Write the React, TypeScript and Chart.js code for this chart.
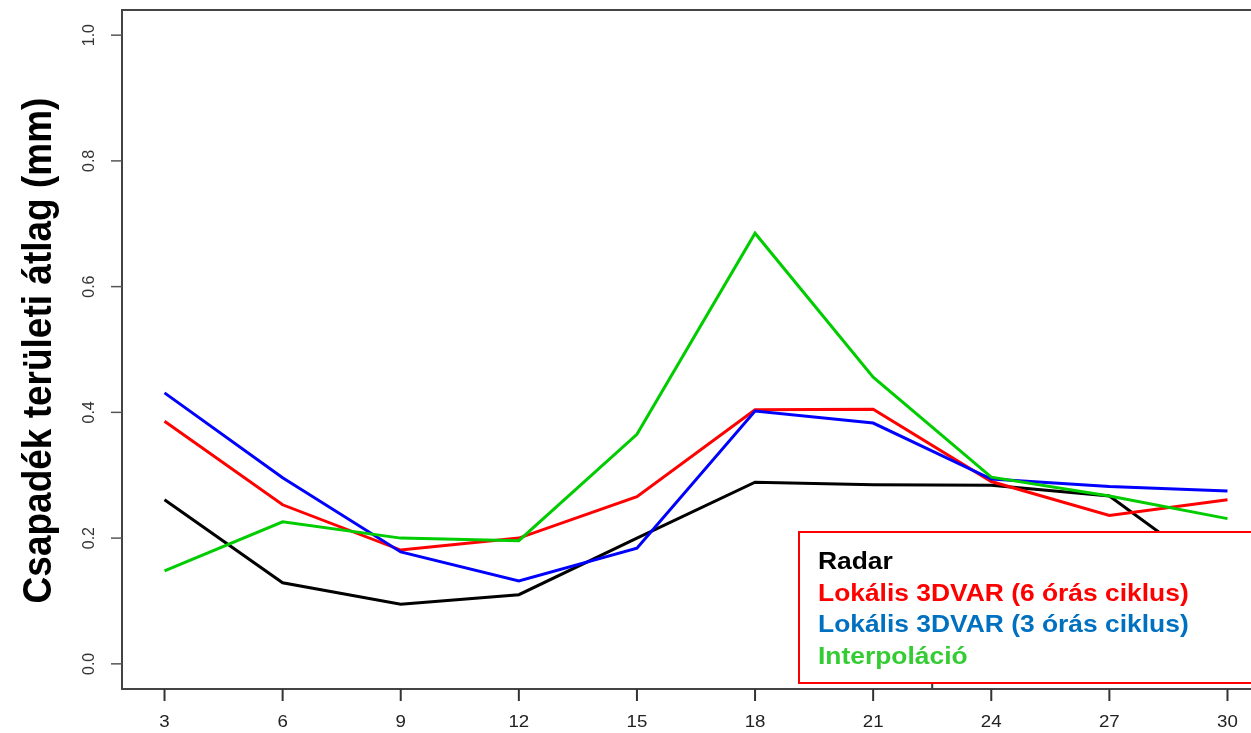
import React, { useEffect, useRef } from "react";
import { Chart, registerables } from "chart.js";

Chart.register(...registerables);

const hours = [3, 6, 9, 12, 15, 18, 21, 24, 27, 30];
const radar = [0.261, 0.129, 0.095, 0.11, 0.2, 0.289, 0.285, 0.284, 0.267, 0.13];
const lokalis6 = [0.386, 0.253, 0.181, 0.2, 0.266, 0.404, 0.405, 0.29, 0.236, 0.261];
const lokalis3 = [0.431, 0.296, 0.178, 0.132, 0.184, 0.402, 0.383, 0.294, 0.282, 0.275];
const interpolacio = [0.148, 0.226, 0.2, 0.196, 0.365, 0.685, 0.456, 0.297, 0.267, 0.231];

const yTicks = [0, 0.2, 0.4, 0.6, 0.8, 1.0];
const yTickLabels = ["0.0", "0.2", "0.4", "0.6", "0.8", "1.0"];
const xTickLabels = ["3", "6", "9", "12", "15", "18", "21", "24", "27", "30"];
const yTitle = "Csapadék területi átlag (mm)";
const seriesNames = [
  "Radar",
  "Lokális 3DVAR (6 órás ciklus)",
  "Lokális 3DVAR (3 órás ciklus)",
  "Interpoláció",
];
const lineColors = ["#000000", "#ff0000", "#0000ff", "#00cc00"];
const legendTextColors = ["#000000", "#ff0000", "#0070c0", "#33cc33"];

const FONT = "'Liberation Sans', Arial, Helvetica, sans-serif";
const STRETCH = 1.1;

export default function App() {
  const ref = useRef<HTMLCanvasElement>(null);

  useEffect(() => {
    const canvas = ref.current;
    if (!canvas) return;

    const decor = {
      id: "rDecor",
      afterDraw(chart: any) {
        const ctx = chart.ctx as CanvasRenderingContext2D;
        const a = chart.chartArea;
        const xs = chart.scales.x;
        const ys = chart.scales.y;
        ctx.save();

        // stray tick at 22.5
        ctx.strokeStyle = "#333";
        ctx.lineWidth = 2;
        const sx = xs.getPixelForValue(22.5);
        ctx.beginPath();
        ctx.moveTo(sx, a.bottom);
        ctx.lineTo(sx, a.bottom - 12);
        ctx.stroke();

        // legend box
        const lx = a.left + 677;
        const ly = a.bottom - 157;
        const lb = a.bottom - 6;
        ctx.fillStyle = "#ffffff";
        ctx.fillRect(lx, ly, a.right + 40 - lx, lb - ly);
        ctx.strokeStyle = "#ff0000";
        ctx.lineWidth = 2;
        ctx.strokeRect(lx, ly, a.right + 40 - lx, lb - ly);
        ctx.font = `bold 24px ${FONT}`;
        ctx.textAlign = "left";
        ctx.textBaseline = "alphabetic";
        seriesNames.forEach((name, i) => {
          ctx.save();
          ctx.translate(lx + 19, ly + 37 + i * 31.5);
          ctx.scale(STRETCH, 1);
          ctx.fillStyle = legendTextColors[i];
          ctx.fillText(name, 0, 0);
          ctx.restore();
        });

        // frame
        ctx.strokeStyle = "#444";
        ctx.lineWidth = 2;
        ctx.strokeRect(a.left, a.top, a.right - a.left, a.bottom - a.top);

        // y ticks + labels
        ctx.lineWidth = 1.5;
        ctx.strokeStyle = "#555";
        yTicks.forEach((v, i) => {
          const py = ys.getPixelForValue(v);
          ctx.beginPath();
          ctx.moveTo(a.left - 11, py);
          ctx.lineTo(a.left, py);
          ctx.stroke();
          ctx.save();
          ctx.translate(a.left - 32, py);
          ctx.rotate(-Math.PI / 2);
          ctx.font = `16px ${FONT}`;
          ctx.fillStyle = "#333";
          ctx.textAlign = "center";
          ctx.textBaseline = "middle";
          ctx.fillText(yTickLabels[i], 0, 0);
          ctx.restore();
        });

        // x ticks + labels
        ctx.lineWidth = 2;
        ctx.strokeStyle = "#333";
        hours.forEach((v, i) => {
          const px = xs.getPixelForValue(v);
          ctx.beginPath();
          ctx.moveTo(px, a.bottom);
          ctx.lineTo(px, a.bottom + 12);
          ctx.stroke();
          ctx.save();
          ctx.translate(px, a.bottom + 33);
          ctx.scale(STRETCH, 1);
          ctx.font = `17px ${FONT}`;
          ctx.fillStyle = "#222";
          ctx.textAlign = "center";
          ctx.textBaseline = "middle";
          ctx.fillText(xTickLabels[i], 0, 0);
          ctx.restore();
        });

        // y title
        ctx.save();
        ctx.translate(40, (a.top + a.bottom) / 2 + 1);
        ctx.scale(STRETCH, 1);
        ctx.rotate(-Math.PI / 2);
        ctx.font = `bold 37px ${FONT}`;
        ctx.fillStyle = "#000";
        ctx.textAlign = "center";
        ctx.textBaseline = "middle";
        ctx.fillText(yTitle, 0, 0);
        ctx.restore();

        ctx.restore();
      },
    };

    const mk = (label: string, data: number[], i: number, order: number) => ({
      label,
      data: hours.map((h, k) => ({ x: h, y: data[k] })),
      borderColor: lineColors[i],
      backgroundColor: lineColors[i],
      borderWidth: 3,
      pointRadius: 0,
      tension: 0,
      fill: false,
      order,
    });

    const chart = new Chart(canvas, {
      type: "line",
      data: {
        datasets: [
          mk(seriesNames[0], radar, 0, 4),
          mk(seriesNames[1], lokalis6, 1, 3),
          mk(seriesNames[2], lokalis3, 2, 2),
          mk(seriesNames[3], interpolacio, 3, 1),
        ],
      },
      options: {
        animation: false,
        responsive: false,
        devicePixelRatio: 1,
        layout: { padding: { left: 122, right: 30, top: 10, bottom: 44 } },
        plugins: { legend: { display: false }, tooltip: { enabled: false } },
        scales: {
          x: { type: "linear", min: 1.92, max: 31.08, display: false },
          y: { type: "linear", min: -0.04, max: 1.04, display: false },
        },
      },
      plugins: [decor],
    });

    return () => chart.destroy();
  }, []);

  return (
    <div
      style={{
        position: "fixed",
        left: 0,
        top: 0,
        width: 1251,
        height: 733,
        overflow: "hidden",
        background: "#fff",
      }}
    >
      <canvas ref={ref} width={1300} height={733} style={{ display: "block" }} />
    </div>
  );
}
